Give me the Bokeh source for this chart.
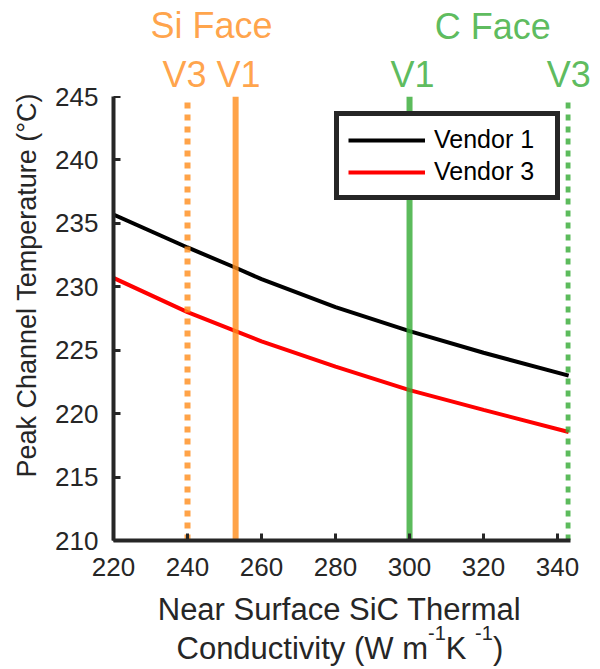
import math
from bokeh.plotting import figure
from bokeh.layouts import column, row
from bokeh.models import FixedTicker, ColumnDataSource, Range1d, Title
from bokeh.core.properties import value
from bokeh.embed import file_html
from bokeh.resources import INLINE

# ---- data ----
conductivity = [220, 240, 253, 260, 280, 300, 320, 343]
vendor1 = [235.7, 233.1, 231.5, 230.6, 228.4, 226.5, 224.8, 223.0]
vendor3 = [230.7, 228.0, 226.5, 225.7, 223.7, 221.85, 220.3, 218.55]

si_face_x = [240, 253]      # V3, V1 (Si face)
c_face_x = [300, 343]       # V1, V3 (C face)
x_ticks = [220, 240, 260, 280, 300, 320, 340]
y_ticks = [210, 215, 220, 225, 230, 235, 240, 245]

X_MIN, X_MAX = 220, 343.5
Y_MIN, Y_MAX = 210, 245

# ---- layout (pixels) ----
W, H = 600, 669
FL, FR, FT, FB = 113, 570, 96, 540
B = 555             # bottom of the block holding the plot frame
XB = 590            # bottom of the x tick-label strip
LW = 110            # width of the left strip holding the y tick labels / title
MW = W - LW
TICK_FS = "26px"

def px_x(px):
    return X_MIN + (px - FL) / (FR - FL) * (X_MAX - X_MIN)

FONT = "Liberation Sans"
AX = "#262626"
ORANGE = "#FF8C1A"
GREEN = "#33AA33"
ALPHA = 0.8

x_rng = Range1d(X_MIN, X_MAX)
y_rng = Range1d(Y_MIN, Y_MAX)

def bare(fig):
    fig.outline_line_color = None
    fig.xgrid.visible = False
    fig.ygrid.visible = False
    return fig

# ---------------- left strip: y tick labels + y title ----------------
left = bare(figure(width=LW, height=B, x_range=Range1d(0, 1), y_range=y_rng,
                   output_backend="svg", toolbar_location=None, frame_align=False,
                   x_axis_type=None,
                   min_border_left=LW - 1, min_border_right=0,
                   min_border_top=FT, min_border_bottom=B - FB))
la = left.yaxis[0]
la.ticker = FixedTicker(ticks=y_ticks)
la.axis_line_color = None
la.major_tick_line_color = None
la.minor_tick_line_color = None
la.major_tick_in = 0
la.major_tick_out = 0
la.major_label_standoff = 12
la.major_label_text_font = FONT
la.major_label_text_font_size = TICK_FS
la.major_label_text_color = AX
left.add_layout(Title(text="Peak Channel Temperature (°C)", align="left", offset=FB - 477,
                      text_font=FONT, text_font_size="27px", text_font_style="normal",
                      text_color=AX, standoff=22), "left")

# ---------------- main plot ----------------
p = bare(figure(width=MW, height=B - FT, x_range=x_rng, y_range=y_rng,
                output_backend="svg", toolbar_location=None, frame_align=False,
                min_border_left=FL - LW, min_border_right=W - FR,
                min_border_top=0, min_border_bottom=B - FB))
for ax in (p.xaxis, p.yaxis):
    ax.axis_line_width = 4
    ax.axis_line_color = AX
    ax.major_tick_in = 7
    ax.major_tick_out = 0
    ax.major_tick_line_width = 3
    ax.major_tick_line_color = AX
    ax.minor_tick_line_color = None
    ax.major_label_text_font_size = "0px"
    ax.major_label_standoff = 0
p.xaxis.ticker = FixedTicker(ticks=x_ticks)
p.yaxis.ticker = FixedTicker(ticks=y_ticks)
# tick labels are drawn by the strips' axes that share these ranges
p.xaxis.major_label_overrides = {t: "" for t in x_ticks}
p.yaxis.major_label_overrides = {t: "" for t in y_ticks}

src = ColumnDataSource(dict(x=conductivity, v1=vendor1, v3=vendor3))
p.line("x", "v1", source=src, line_color="black", line_width=4, legend_label="Vendor 1")
p.line("x", "v3", source=src, line_color="#FF0000", line_width=4, legend_label="Vendor 3")

def vlines(fig, xs, color, dashes):
    for xv, d in zip(xs, dashes):
        s = ColumnDataSource(dict(x0=[xv], y0=[Y_MIN], x1=[xv], y1=[Y_MAX]))
        fig.segment("x0", "y0", "x1", "y1", source=s, line_color=color, line_alpha=ALPHA,
                    line_width=6, line_dash=d, line_cap="butt")

vlines(p, si_face_x, ORANGE, ["6 6", "solid"])
vlines(p, c_face_x, GREEN, ["solid", "6 6"])

lg = p.legend[0]
lg.location = (221, 340)
lg.border_line_color = AX
lg.border_line_alpha = 1.0
lg.border_line_width = 5
lg.background_fill_color = "white"
lg.background_fill_alpha = 1.0
lg.label_text_font = FONT
lg.label_text_font_size = "25px"
lg.label_text_color = "black"
lg.glyph_width = 77
lg.glyph_height = 26
lg.label_height = 26
lg.label_width = 112
lg.label_standoff = 9
lg.padding = 9
lg.spacing = 3
lg.margin = 0

# ---------------- x tick-label strip ----------------
axf = bare(figure(width=W, height=XB - B, x_range=x_rng, y_range=Range1d(0, 1),
                  output_backend="svg", toolbar_location=None, frame_align=False,
                  y_axis_type=None,
                  min_border_left=FL, min_border_right=W - FR,
                  min_border_top=0, min_border_bottom=XB - B - 1))
xa = axf.xaxis[0]
xa.ticker = FixedTicker(ticks=x_ticks)
xa.axis_line_color = None
xa.major_tick_line_color = None
xa.minor_tick_line_color = None
xa.major_tick_in = 0
xa.major_tick_out = 0
xa.major_label_standoff = 1
xa.major_label_text_font = FONT
xa.major_label_text_font_size = TICK_FS
xa.major_label_text_color = AX

# ---------------- text strips above / below ----------------
def strip(width, height, y_top, x_left_px):
    return bare(figure(width=width, height=height,
                       x_range=Range1d(px_x(x_left_px), px_x(x_left_px + width)),
                       y_range=Range1d(y_top + height, y_top),
                       output_backend="svg", toolbar_location=None, frame_align=False,
                       x_axis_type=None, y_axis_type=None,
                       min_border_left=0, min_border_right=0,
                       min_border_top=0, min_border_bottom=0))

top = strip(MW, FT, 0, LW)
si_mid = sum(si_face_x) / 2
c_mid = sum(c_face_x) / 2 + 1.0
face_src = ColumnDataSource(dict(
    x=[si_mid, si_mid, c_mid, c_face_x[0] + 0.8, c_face_x[1]],
    y=[24.5, 73.5, 25.5, 73.5, 73.5],
    t=["Si Face", "V3 V1", "C Face", "V1", "V3"],
    c=[ORANGE, ORANGE, GREEN, GREEN, GREEN]))
top.text(x="x", y="y", text="t", text_color="c", source=face_src, text_alpha=ALPHA,
         text_font=value(FONT), text_font_size=value("36px"),
         text_align="center", text_baseline="middle")

bot = strip(W, H - XB, XB, 0)
start = 176
xl_src = ColumnDataSource(dict(
    x=[px_x(start), px_x(start + 251.5), px_x(start + 269.3), px_x(start + 298.6), px_x(start + 316.4)],
    y=[648, 632, 648, 632, 648],
    t=["Conductivity (W m", "-1", " K", "-1", ")"],
    s=["31px", "20px", "31px", "20px", "31px"]))
bot.text(x=[px_x(339)], y=[609], text=["Near Surface SiC Thermal"], text_color=AX,
         text_font=value(FONT), text_font_size=value("31px"),
         text_align="center", text_baseline="middle")
bot.text(x="x", y="y", text="t", text_font_size="s", source=xl_src, text_color=AX,
         text_font=value(FONT), text_align="left", text_baseline="middle")

layout = column(row(left, column(top, p, spacing=0), spacing=0), axf, bot, spacing=0)
open("out.html", "w").write(file_html(layout, INLINE))
